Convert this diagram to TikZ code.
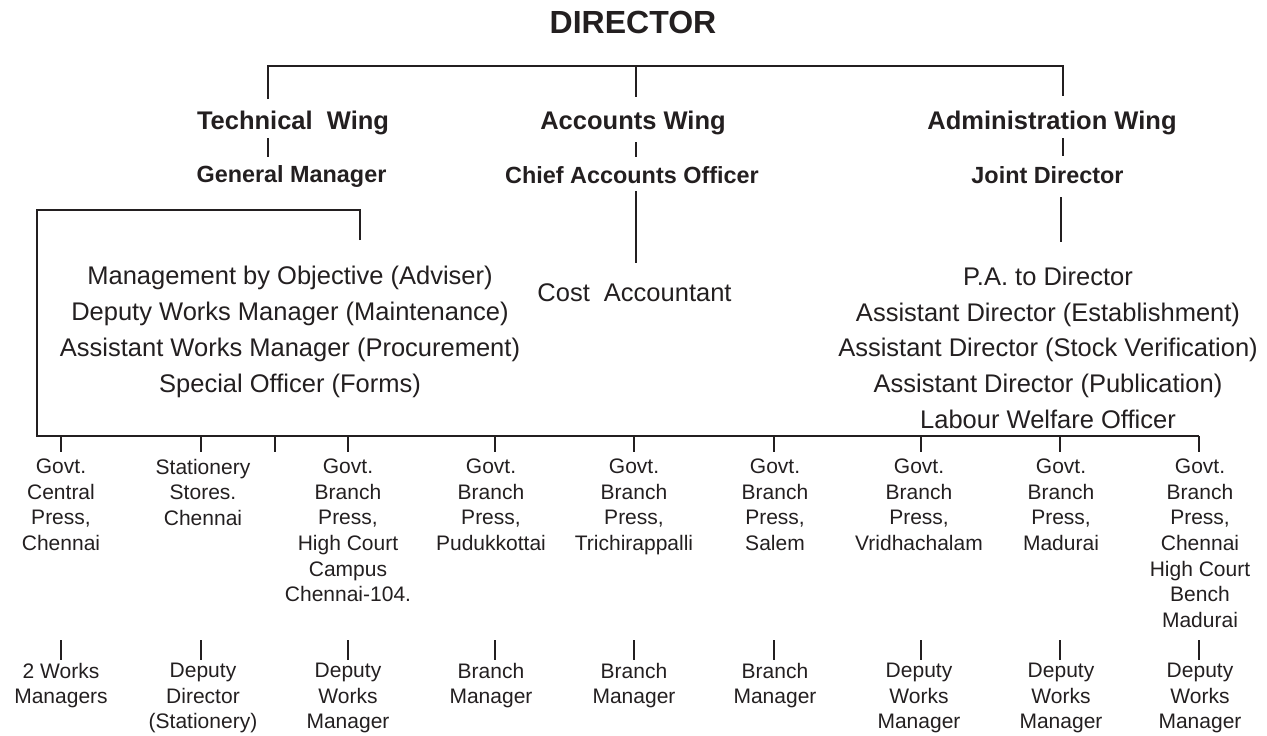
\documentclass[tikz,border=0pt]{standalone}
\usepackage{fontspec}
\setmainfont{Liberation Sans}
\definecolor{ink}{HTML}{231F20}
\begin{document}
\begin{tikzpicture}[x=1pt,y=-1pt, inner sep=0pt, outer sep=0pt, color=ink,
  topt/.style={font=\fontsize{32}{38}\selectfont\bfseries, anchor=base},
  wing/.style={font=\fontsize{25.5}{30}\selectfont\bfseries, anchor=base},
  head/.style={font=\fontsize{23.4}{28}\selectfont\bfseries, anchor=base},
  list/.style={font=\fontsize{25.5}{35.7}\selectfont, align=center, anchor=north},
  single/.style={font=\fontsize{25.5}{30}\selectfont, anchor=base},
  unit/.style={font=\fontsize{21}{25.6}\selectfont, align=center, anchor=north},
  conn/.style={line width=2pt},
  thin/.style={line width=1.5pt}]
\useasboundingbox (0,0) rectangle (1267,736);

% titles
\node[topt] (dir) at (633,33) {DIRECTOR};
\node[wing] (tw) at (293,129) {Technical~~Wing};
\node[wing] (aw) at (633,129) {Accounts Wing};
\node[wing] (adw) at (1052,129.5) {Administration Wing};
\node[head] (gm) at (291.5,182) {General Manager};
\node[head] (cao) at (632,183.5) {Chief Accounts Officer};
\node[head] (jd) at (1047.5,183.5) {Joint Director};

% lists
\node[list] (techlist) at (290,266.5) {Management by Objective (Adviser)\\Deputy Works Manager (Maintenance)\\Assistant Works Manager (Procurement)\\Special Officer (Forms)};
\node[list] (adminlist) at (1048,267) {P.A. to Director\\Assistant Director (Establishment)\\Assistant Director (Stock Verification)\\Assistant Director (Publication)\\Labour Welfare Officer};
\node[single] (cost) at (634.5,301) {Cost~~Accountant};

% units
\node[unit] (u1) at (61,459) {Govt.\\Central\\Press,\\Chennai};
\node[unit] (u2) at (203,459) {Stationery\\Stores.\\Chennai};
\node[unit] (u3) at (348,459) {Govt.\\Branch\\Press,\\High Court\\Campus\\Chennai-104.};
\node[unit] (u4) at (491,459) {Govt.\\Branch\\Press,\\Pudukkottai};
\node[unit] (u5) at (634,459) {Govt.\\Branch\\Press,\\Trichirappalli};
\node[unit] (u6) at (775,459) {Govt.\\Branch\\Press,\\Salem};
\node[unit] (u7) at (919,459) {Govt.\\Branch\\Press,\\Vridhachalam};
\node[unit] (u8) at (1061,459) {Govt.\\Branch\\Press,\\Madurai};
\node[unit] (u9) at (1200,459) {Govt.\\Branch\\Press,\\Chennai\\High Court\\Bench\\Madurai};

% heads of units
\node[unit] (m1) at (61,663) {2 Works\\Managers};
\node[unit] (m2) at (203,663) {Deputy\\Director\\(Stationery)};
\node[unit] (m3) at (348,663) {Deputy\\Works\\Manager};
\node[unit] (m4) at (491,663) {Branch\\Manager};
\node[unit] (m5) at (634,663) {Branch\\Manager};
\node[unit] (m6) at (775,663) {Branch\\Manager};
\node[unit] (m7) at (919,663) {Deputy\\Works\\Manager};
\node[unit] (m8) at (1061,663) {Deputy\\Works\\Manager};
\node[unit] (m9) at (1200,663) {Deputy\\Works\\Manager};

% top bracket
\coordinate (bl) at (268,66);
\coordinate (bm) at (636,66);
\coordinate (br) at (1063,66);
\coordinate (bl2) at (268,99);
\coordinate (bm2) at (636,97);
\coordinate (br2) at (1063,96);
\draw[conn] (bl2) -- (bl) -- (br) -- (br2);
\draw[conn] (bm) -- (bm2);

% wing to head
\coordinate (t1) at (268,138); \coordinate (t2) at (268,157);
\coordinate (a1) at (636,142); \coordinate (a2) at (636,157);
\coordinate (d1) at (1063,138); \coordinate (d2) at (1063,156);
\draw[thin] (t1) -- (t2);
\draw[thin] (a1) -- (a2);
\draw[thin] (d1) -- (d2);

% accounts and admin lines
\coordinate (c1) at (636,191); \coordinate (c2) at (636,263);
\draw[conn] (c1) -- (c2);
\coordinate (j1) at (1061,197); \coordinate (j2) at (1061,242);
\draw[conn] (j1) -- (j2);

% technical bracket and bottom bus
\coordinate (g1) at (360,240);
\coordinate (g2) at (360,210);
\coordinate (g3) at (37,210);
\coordinate (g4) at (37,436);
\coordinate (g5) at (1199,436);
\draw[conn] (g1) -- (g2) -- (g3) -- (g4) -- (g5);

% ticks on bus
\foreach \x in {61,201,275,348,495,634,774,921,1060,1199}
  \draw[conn] (\x,436) -- (\x,452);

% ticks above heads
\foreach \x in {61,201,348,495,634,774,921,1060,1199}
  \draw[conn] (\x,640) -- (\x,660);
\end{tikzpicture}
\end{document}
